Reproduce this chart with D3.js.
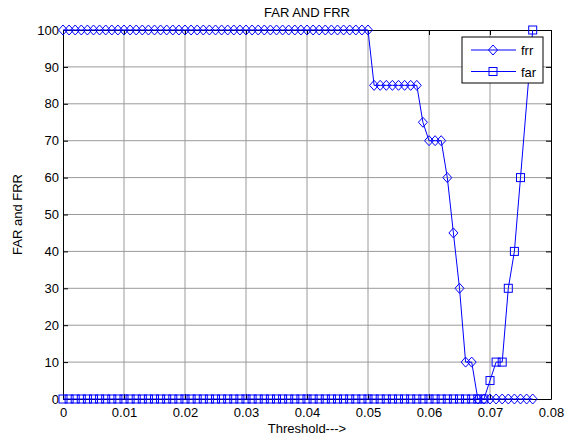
<!DOCTYPE html>
<html>
<meta charset="utf-8">
<script src="https://d3js.org/d3.v7.min.js"></script>
<style>
  body { margin: 0; background: #fff; }
  text { font-family: "Liberation Sans", Arial, sans-serif; }
</style>
<div id="chart"></div>
<script>
// thresholds 0 .. 0.077
let thresholds = [0,0.001,0.002,0.003,0.004,0.005,0.006,0.007,0.008,0.009,
  0.010,0.011,0.012,0.013,0.014,0.015,0.016,0.017,0.018,0.019,
  0.020,0.021,0.022,0.023,0.024,0.025,0.026,0.027,0.028,0.029,
  0.030,0.031,0.032,0.033,0.034,0.035,0.036,0.037,0.038,0.039,
  0.040,0.041,0.042,0.043,0.044,0.045,0.046,0.047,0.048,0.049,
  0.050,0.051,0.052,0.053,0.054,0.055,0.056,0.057,0.058,0.059,
  0.060,0.061,0.062,0.063,0.064,0.065,0.066,0.067,0.068,0.069,
  0.070,0.071,0.072,0.073,0.074,0.075,0.076,0.077]

let frr = [100,100,100,100,100,100,100,100,100,100,
  100,100,100,100,100,100,100,100,100,100,
  100,100,100,100,100,100,100,100,100,100,
  100,100,100,100,100,100,100,100,100,100,
  100,100,100,100,100,100,100,100,100,100,
  100,85,85,85,85,85,85,85,85,75,
  70,70,70,60,45,30,10,10,0,0,
  0,0,0,0,0,0,0,0]

// far has no point at 0.076
let farThresholds = thresholds.filter(t => t !== 0.076)
let far = [0,0,0,0,0,0,0,0,0,0,
  0,0,0,0,0,0,0,0,0,0,
  0,0,0,0,0,0,0,0,0,0,
  0,0,0,0,0,0,0,0,0,0,
  0,0,0,0,0,0,0,0,0,0,
  0,0,0,0,0,0,0,0,0,0,
  0,0,0,0,0,0,0,0,0,0,
  5,10,10,30,40,60,100]

let xTicks = [0,0.01,0.02,0.03,0.04,0.05,0.06,0.07,0.08]
let yTicks = [0,10,20,30,40,50,60,70,80,90,100]

let width = 565, height = 438
let margin = {left: 63, right: 14, top: 30, bottom: 39}

let svg = d3.select("#chart").append("svg")
  .attr("width", width).attr("height", height)

let x = d3.scaleLinear().domain([0, 0.08]).range([margin.left, width - margin.right])
let y = d3.scaleLinear().domain([0, 100]).range([height - margin.bottom, margin.top])

// grid
svg.append("g").selectAll("line").data(xTicks.slice(1, -1)).join("line")
  .attr("x1", d => x(d)).attr("x2", d => x(d))
  .attr("y1", y(0)).attr("y2", y(100))
  .attr("stroke", "#9a9a9a").attr("stroke-width", 1)
svg.append("g").selectAll("line").data(yTicks.slice(1, -1)).join("line")
  .attr("x1", x(0)).attr("x2", x(0.08))
  .attr("y1", d => y(d)).attr("y2", d => y(d))
  .attr("stroke", "#9a9a9a").attr("stroke-width", 1)

// axes
let xAxis = svg.append("g").attr("transform", "translate(0," + y(0) + ")")
  .call(d3.axisBottom(x).tickValues(xTicks).tickFormat(d => d === 0 ? "0" : d3.format(".2f")(d)).tickSizeInner(-5).tickSizeOuter(0).tickPadding(9))
let xAxisTop = svg.append("g").attr("transform", "translate(0," + y(100) + ")")
  .call(d3.axisTop(x).tickValues(xTicks).tickFormat("").tickSizeInner(-5).tickSizeOuter(0))
let yAxis = svg.append("g").attr("transform", "translate(" + x(0) + ",0)")
  .call(d3.axisLeft(y).tickValues(yTicks).tickSizeInner(-5).tickSizeOuter(0).tickPadding(4))
let yAxisRight = svg.append("g").attr("transform", "translate(" + x(0.08) + ",0)")
  .call(d3.axisRight(y).tickValues(yTicks).tickFormat("").tickSizeInner(-5).tickSizeOuter(0))

svg.selectAll(".domain").attr("stroke", "#000")
svg.selectAll(".tick line").attr("stroke", "#000")
svg.selectAll(".tick text").attr("font-size", 13).attr("fill", "#000")
  .style("font-family", "'Liberation Sans', Arial, sans-serif")

// lines
let line = d3.line().x(d => x(d[0])).y(d => y(d[1]))
let frrData = thresholds.map((t, i) => [t, frr[i]])
let farData = farThresholds.map((t, i) => [t, far[i]])

let diamond = (cx, cy, r) => "M" + cx + "," + (cy - r) + "L" + (cx + r * 0.9) + "," + cy + "L" + cx + "," + (cy + r) + "L" + (cx - r * 0.9) + "," + cy + "Z"

svg.append("path").datum(frrData).attr("d", line)
  .attr("fill", "none").attr("stroke", "#0000ff").attr("stroke-width", 1)
svg.append("g").selectAll("path").data(frrData).join("path")
  .attr("d", d => diamond(x(d[0]), y(d[1]), 5))
  .attr("fill", "none").attr("stroke", "#0000ff").attr("stroke-width", 1)

svg.append("path").datum(farData).attr("d", line)
  .attr("fill", "none").attr("stroke", "#0000ff").attr("stroke-width", 1)
svg.append("g").selectAll("rect").data(farData).join("rect")
  .attr("x", d => x(d[0]) - 4).attr("y", d => y(d[1]) - 4)
  .attr("width", 8).attr("height", 8)
  .attr("fill", "none").attr("stroke", "#0000ff").attr("stroke-width", 1)

// title and labels
svg.append("text").attr("x", (x(0) + x(0.08)) / 2).attr("y", 17)
  .attr("text-anchor", "middle").attr("font-size", 13).text("FAR AND FRR")
svg.append("text").attr("x", (x(0) + x(0.08)) / 2).attr("y", 433)
  .attr("text-anchor", "middle").attr("font-size", 13).text("Threshold--->")
svg.append("text").attr("transform", "translate(22," + (y(50)) + ") rotate(-90)")
  .attr("text-anchor", "middle").attr("font-size", 13).text("FAR and FRR")

// legend
let lg = svg.append("g")
lg.append("rect").attr("x", 462).attr("y", 37).attr("width", 81).attr("height", 46)
  .attr("fill", "#fff").attr("stroke", "#000").attr("stroke-width", 1)
let entries = [{name: "frr", sym: "d", cy: 50}, {name: "far", sym: "s", cy: 71.5}]
entries.forEach(e => {
  lg.append("line").attr("x1", 471).attr("x2", 516).attr("y1", e.cy).attr("y2", e.cy)
    .attr("stroke", "#0000ff").attr("stroke-width", 1)
  if (e.sym === "d") {
    lg.append("path").attr("d", diamond(493, e.cy, 5))
      .attr("fill", "none").attr("stroke", "#0000ff")
  } else {
    lg.append("rect").attr("x", 489).attr("y", e.cy - 4).attr("width", 8).attr("height", 8)
      .attr("fill", "none").attr("stroke", "#0000ff")
  }
  lg.append("text").attr("x", 521).attr("y", e.cy + 5).attr("font-size", 13).text(e.name)
})
</script>
</html>
